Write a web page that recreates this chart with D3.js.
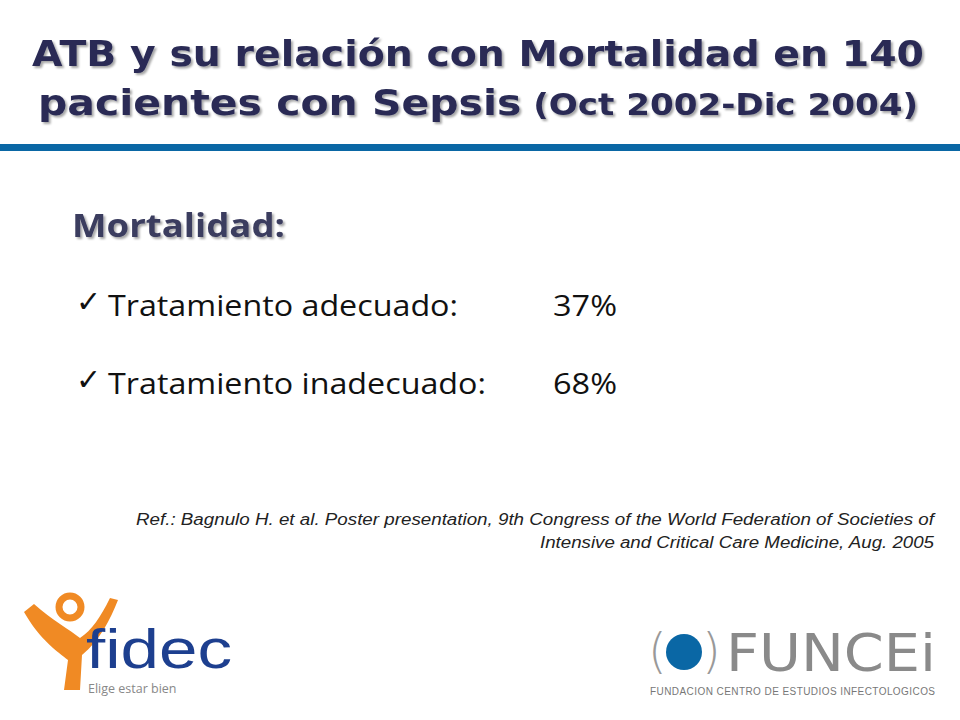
<!DOCTYPE html>
<html><head><meta charset="utf-8">
<script src="https://cdn.jsdelivr.net/npm/d3@7"></script>
<style>body{margin:0;background:#fff}</style></head>
<body>
<script>
var titleLines = ["ATB y su relación con Mortalidad en 140", "pacientes con Sepsis"];
var titleSuffix = " (Oct 2002-Dic 2004)";
var categories = ["Tratamiento adecuado:", "Tratamiento inadecuado:"];
var mortality = [37, 68];
var refLines = [
  "Ref.: Bagnulo H. et al. Poster presentation, 9th  Congress of the World Federation of Societies of",
  "Intensive and Critical Care Medicine, Aug. 2005"
];

var width = 960, height = 720;
var svg = d3.select("body").append("svg").attr("width", width).attr("height", height);

var defs = svg.append("defs");
var f = defs.append("filter").attr("id", "sh").attr("x", "-5%").attr("y", "-20%").attr("width", "110%").attr("height", "140%");
f.append("feDropShadow").attr("dx", 2).attr("dy", 2).attr("stdDeviation", 1.2).attr("flood-color", "#000").attr("flood-opacity", 0.35);

// title
var title = svg.append("g").attr("filter", "url(#sh)")
  .attr("font-family", "DejaVu Sans").attr("font-weight", "bold").attr("fill", "#2a2c55").attr("text-anchor", "middle");
title.append("text").attr("x", 478).attr("y", 66).attr("font-size", 36)
  .attr("textLength", 892).attr("lengthAdjust", "spacingAndGlyphs").text(titleLines[0]);
var t2 = title.append("text").attr("x", 478).attr("y", 115).attr("font-size", 36)
  .attr("textLength", 880).attr("lengthAdjust", "spacingAndGlyphs");
t2.append("tspan").text(titleLines[1]);
t2.append("tspan").attr("font-size", 30).text(titleSuffix);

svg.append("rect").attr("x", 0).attr("y", 144).attr("width", width).attr("height", 7).attr("fill", "#0a67a5");

// heading
svg.append("text").attr("x", 72).attr("y", 237).attr("filter", "url(#sh)")
  .attr("font-family", "Open Sans").attr("font-weight", "bold").attr("font-size", 32).attr("fill", "#3b3c5e")
  .attr("textLength", 213).attr("lengthAdjust", "spacingAndGlyphs")
  .text("Mortalidad:");

var y = d3.scalePoint().domain(categories).range([316, 394]);
var rows = svg.selectAll("g.row").data(categories).enter().append("g").attr("class", "row")
  .attr("transform", function(d) { return "translate(0," + y(d) + ")"; })
  .attr("font-family", "Open Sans").attr("font-size", 30).attr("fill", "#111");
rows.append("text").attr("x", 76).attr("y", -4).attr("font-family", "DejaVu Sans").attr("font-weight", "bold").attr("font-size", 30).text("✓");
rows.append("text").attr("x", 108).attr("textLength", function(d, i) { return i ? 378 : 350; })
  .attr("lengthAdjust", "spacingAndGlyphs").text(function(d) { return d; });
rows.append("text").attr("x", 553).attr("textLength", 64).attr("lengthAdjust", "spacingAndGlyphs")
  .text(function(d, i) { return mortality[i] + "%"; });

var refLen = [798, 394];
svg.selectAll("text.ref").data(refLines).enter().append("text").attr("class", "ref")
  .attr("x", 934).attr("y", function(d, i) { return 525 + i * 23; })
  .attr("text-anchor", "end").attr("font-family", "Liberation Sans").attr("font-style", "italic")
  .attr("font-size", 16).attr("fill", "#222")
  .attr("textLength", function(d, i) { return refLen[i]; }).attr("lengthAdjust", "spacingAndGlyphs")
  .text(function(d) { return d; });

// fidec logo
var fd = svg.append("g");
fd.append("path").attr("d", "M24,612 C40,640 58,652 68,660 L64,690 L80,690 L82,655 C100,640 110,620 118,600 L110,598 C100,618 92,630 80,638 C70,630 52,620 34,604 Z")
  .attr("fill", "#f08a24");
fd.append("circle").attr("cx", 70).attr("cy", 607).attr("r", 11).attr("fill", "none").attr("stroke", "#f08a24").attr("stroke-width", 7);
fd.append("text").attr("x", 86).attr("y", 668).attr("font-family", "Liberation Sans Narrow, Liberation Sans").attr("font-size", 56)
  .attr("fill", "#1d3f8f").attr("textLength", 146).attr("lengthAdjust", "spacingAndGlyphs").text("fidec");
fd.append("text").attr("x", 88).attr("y", 693).attr("font-family", "Open Sans").attr("font-size", 12.5).attr("fill", "#888").text("Elige estar bien");

// FUNCEi logo
var fu = svg.append("g");
fu.append("text").attr("x", 648).attr("y", 668).attr("font-family", "DejaVu Sans").attr("font-weight", "lighter").attr("font-size", 48).attr("fill", "#999").text("(");
fu.append("circle").attr("cx", 684).attr("cy", 652).attr("r", 18).attr("fill", "#0a67a5");
fu.append("text").attr("x", 702).attr("y", 668).attr("font-family", "DejaVu Sans").attr("font-weight", "lighter").attr("font-size", 48).attr("fill", "#999").text(")");
fu.append("text").attr("x", 726).attr("y", 671).attr("font-family", "DejaVu Sans Condensed, DejaVu Sans").attr("font-size", 52)
  .attr("fill", "#8a8a8a").attr("textLength", 210).attr("lengthAdjust", "spacingAndGlyphs").text("FUNCEi");
fu.append("text").attr("x", 650).attr("y", 695).attr("font-family", "Liberation Sans Narrow, Liberation Sans").attr("font-size", 10)
  .attr("fill", "#777").attr("textLength", 285).text("FUNDACION CENTRO DE ESTUDIOS INFECTOLOGICOS");
</script>
</body></html>
